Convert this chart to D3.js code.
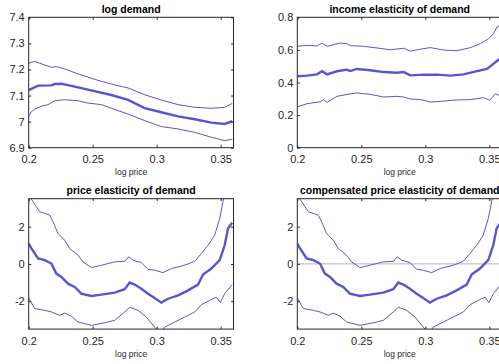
<!DOCTYPE html>
<html>
<head>
<meta charset="utf-8">
<script src="https://cdn.jsdelivr.net/npm/d3@7"></script>
<style>
  body { margin: 0; background: #fff; }
  svg { display: block; font-family: "Liberation Sans", Arial, sans-serif; }
</style>
</head>
<body>
<div id="chart"></div>
<script>
// x ticks shared by all four panels
var xTicks = [0.2, 0.25, 0.3, 0.35];

// log demand: [log price, value]
var demandMid = [[0.2,7.121],[0.2073,7.138],[0.2177,7.139],[0.2203,7.144],[0.2255,7.145],[0.2307,7.140],
  [0.2385,7.131],[0.2497,7.119],[0.2646,7.102],[0.2776,7.083],[0.2906,7.052],[0.3036,7.036],
  [0.3167,7.020],[0.3297,7.009],[0.3427,6.996],[0.3531,6.991],[0.3591,7.002]];
var demandHi = [[0.2,7.224],[0.2047,7.231],[0.2177,7.208],[0.2216,7.211],[0.2281,7.202],[0.2385,7.183],
  [0.2516,7.162],[0.2646,7.144],[0.2776,7.129],[0.2906,7.103],[0.3036,7.083],[0.3167,7.065],
  [0.3297,7.055],[0.3427,7.051],[0.3531,7.055],[0.3591,7.070]];
var demandLo = [[0.2,7.020],[0.2021,7.038],[0.2047,7.048],[0.2099,7.059],[0.2151,7.065],[0.2203,7.080],
  [0.2281,7.084],[0.2385,7.080],[0.2464,7.071],[0.2568,7.065],[0.2698,7.042],[0.2776,7.029],
  [0.2906,7.004],[0.3036,6.981],[0.3167,6.972],[0.3297,6.959],[0.3427,6.940],[0.3531,6.927],[0.3591,6.933]];
var demandTicks = [6.9, 7, 7.1, 7.2, 7.3, 7.4];

// income elasticity
var incomeMid = [[0.2,0.438],[0.2076,0.442],[0.2154,0.450],[0.2193,0.469],[0.2232,0.450],[0.2310,0.469],
  [0.2388,0.479],[0.2414,0.470],[0.2466,0.483],[0.2570,0.475],[0.2674,0.464],[0.2779,0.460],
  [0.2831,0.464],[0.2883,0.444],[0.2987,0.448],[0.3091,0.448],[0.3195,0.442],[0.3299,0.450],
  [0.3404,0.470],[0.3482,0.483],[0.3534,0.516],[0.3576,0.542],[0.36,0.55]];
var incomeHi = [[0.2,0.622],[0.2076,0.628],[0.2154,0.624],[0.2193,0.642],[0.2232,0.622],[0.2336,0.642],
  [0.2388,0.638],[0.2414,0.626],[0.2518,0.622],[0.2622,0.612],[0.2727,0.601],[0.2831,0.610],
  [0.2883,0.593],[0.2961,0.604],[0.3039,0.614],[0.3143,0.599],[0.3247,0.595],[0.3352,0.614],
  [0.3430,0.638],[0.3495,0.669],[0.3534,0.700],[0.3560,0.741],[0.3576,0.745],[0.36,0.75]];
var incomeLo = [[0.2,0.250],[0.2076,0.270],[0.2180,0.282],[0.2206,0.295],[0.2232,0.278],[0.2310,0.315],
  [0.2388,0.327],[0.2466,0.336],[0.2570,0.327],[0.2674,0.311],[0.2779,0.315],[0.2831,0.311],
  [0.2883,0.299],[0.2961,0.295],[0.3039,0.280],[0.3143,0.286],[0.3247,0.293],[0.3352,0.295],
  [0.3456,0.307],[0.3503,0.291],[0.3547,0.331],[0.3576,0.321],[0.36,0.33]];
var incomeTicks = [0, 0.2, 0.4, 0.6, 0.8];

// price elasticity (the compensated one reads the same off the picture)
var priceMid = [[0.2,1.09],[0.2021,0.83],[0.2073,0.29],[0.2125,0.20],[0.2177,0.02],[0.2216,-0.52],
  [0.2255,-0.70],[0.2307,-1.06],[0.2359,-1.24],[0.2411,-1.60],[0.2490,-1.72],[0.2568,-1.65],
  [0.2672,-1.54],[0.2750,-1.36],[0.2789,-1.00],[0.2828,-1.11],[0.2880,-1.33],[0.2932,-1.60],
  [0.2984,-1.83],[0.3036,-2.08],[0.3089,-1.87],[0.3167,-1.69],[0.3245,-1.42],[0.3323,-1.11],
  [0.3362,-0.57],[0.3427,-0.25],[0.3492,0.20],[0.3531,1.00],[0.3557,1.90],[0.3589,2.21]];
var priceHi = [[0.2,3.7],[0.2034,3.34],[0.2086,2.80],[0.2164,2.62],[0.2190,2.26],[0.2229,1.63],
  [0.2281,1.27],[0.2320,0.83],[0.2385,0.47],[0.2424,0.11],[0.2490,-0.20],[0.2568,-0.07],
  [0.2672,0.11],[0.2750,0.14],[0.2781,0.38],[0.2815,0.20],[0.2880,0.07],[0.2932,-0.29],
  [0.2984,-0.34],[0.3049,-0.47],[0.3115,-0.25],[0.3219,-0.07],[0.3297,0.14],[0.3349,0.56],
  [0.3401,1.00],[0.3453,1.54],[0.3492,2.44],[0.3518,3.34],[0.3544,4.2]];
var priceLo = [[0.2,-1.83],[0.2047,-2.40],[0.2125,-2.49],[0.2177,-2.58],[0.2242,-2.76],[0.2281,-2.64],
  [0.2333,-2.80],[0.2385,-3.12],[0.2490,-3.30],[0.2594,-3.16],[0.2672,-3.03],[0.2750,-2.58],
  [0.2789,-2.33],[0.2854,-2.49],[0.2919,-2.85],[0.2984,-3.39],[0.3023,-3.75],[0.3063,-3.39],
  [0.3141,-3.12],[0.3219,-2.85],[0.3297,-2.58],[0.3349,-2.19],[0.3414,-1.96],[0.3466,-1.78],
  [0.3497,-2.08],[0.3531,-1.60],[0.3589,-1.11]];
var priceTicks = [-2, 0, 2];

var w = 499, h = 364;
var pw = 204.8, ph = 130.4;
var lineColor = "#5656d2";
var axisColor = "#262626";

var panels = [
  {title: "log demand", left: 28.7, top: 17.3, ylim: [6.9, 7.4], ticks: demandTicks,
   mid: demandMid, hi: demandHi, lo: demandLo, zero: false},
  {title: "income elasticity of demand", left: 297.3, top: 17.3, ylim: [0, 0.8], ticks: incomeTicks,
   mid: incomeMid, hi: incomeHi, lo: incomeLo, zero: false},
  {title: "price elasticity of demand", left: 28.7, top: 198.7, ylim: [-3.5, 3.5], ticks: priceTicks,
   mid: priceMid, hi: priceHi, lo: priceLo, zero: false},
  {title: "compensated price elasticity of demand", left: 297.3, top: 198.7, ylim: [-3.5, 3.5], ticks: priceTicks,
   mid: priceMid, hi: priceHi, lo: priceLo, zero: true}
];

var svg = d3.select("#chart").append("svg")
  .attr("width", w)
  .attr("height", h);

panels.forEach(function(p, i){
  var x = d3.scaleLinear().domain([0.2, 0.36]).range([0, pw]);
  var y = d3.scaleLinear().domain(p.ylim).range([ph, 0]);

  var g = svg.append("g").attr("transform", "translate(" + p.left + "," + p.top + ")");

  svg.append("clipPath").attr("id", "clip" + i)
    .append("rect").attr("width", pw).attr("height", ph);

  var plot = g.append("g").attr("clip-path", "url(#clip" + i + ")");

  if (p.zero) {
    plot.append("line")
      .attr("x1", 0).attr("x2", pw)
      .attr("y1", y(0)).attr("y2", y(0))
      .attr("stroke", "#b4b4b4")
      .attr("stroke-width", 1);
  }

  var line = d3.line()
    .x(function(d){ return x(d[0]); })
    .y(function(d){ return y(d[1]); });

  [p.hi, p.lo].forEach(function(s){
    plot.append("path")
      .attr("d", line(s))
      .attr("fill", "none")
      .attr("stroke", lineColor)
      .attr("stroke-width", 1);
  });
  plot.append("path")
    .attr("d", line(p.mid))
    .attr("fill", "none")
    .attr("stroke", lineColor)
    .attr("stroke-width", 2.4);

  // axes, ticks pointing inward like matlab
  var fmt = function(d){ return String(+d.toFixed(2)); };

  g.append("g").attr("transform", "translate(0," + ph + ")")
    .call(d3.axisBottom(x).tickValues(xTicks).tickSizeInner(-2.5).tickSizeOuter(0).tickPadding(8).tickFormat(fmt));
  g.append("g")
    .call(d3.axisTop(x).tickValues(xTicks).tickSizeInner(-2.5).tickSizeOuter(0).tickFormat(""));
  g.append("g")
    .call(d3.axisLeft(y).tickValues(p.ticks).tickSizeInner(-2.5).tickSizeOuter(0).tickPadding(4).tickFormat(fmt));
  g.append("g").attr("transform", "translate(" + pw + ",0)")
    .call(d3.axisRight(y).tickValues(p.ticks).tickSizeInner(-2.5).tickSizeOuter(0).tickFormat(""));

  g.selectAll(".domain").remove();
  g.selectAll(".tick line").attr("stroke", axisColor);
  g.selectAll(".tick text")
    .attr("fill", axisColor)
    .attr("font-size", 11)
    .attr("font-family", "Liberation Sans, Arial, sans-serif");

  g.append("rect")
    .attr("width", pw)
    .attr("height", ph)
    .attr("fill", "none")
    .attr("stroke", axisColor)
    .attr("stroke-width", 1);

  g.append("text")
    .attr("x", pw / 2)
    .attr("y", -4.3)
    .attr("text-anchor", "middle")
    .attr("font-size", 10.5)
    .attr("font-weight", "bold")
    .attr("fill", "#000")
    .text(p.title);

  g.append("text")
    .attr("x", pw / 2)
    .attr("y", ph + 27.5)
    .attr("text-anchor", "middle")
    .attr("font-size", 8.5)
    .attr("fill", axisColor)
    .text("log price");
});
</script>
</body>
</html>
